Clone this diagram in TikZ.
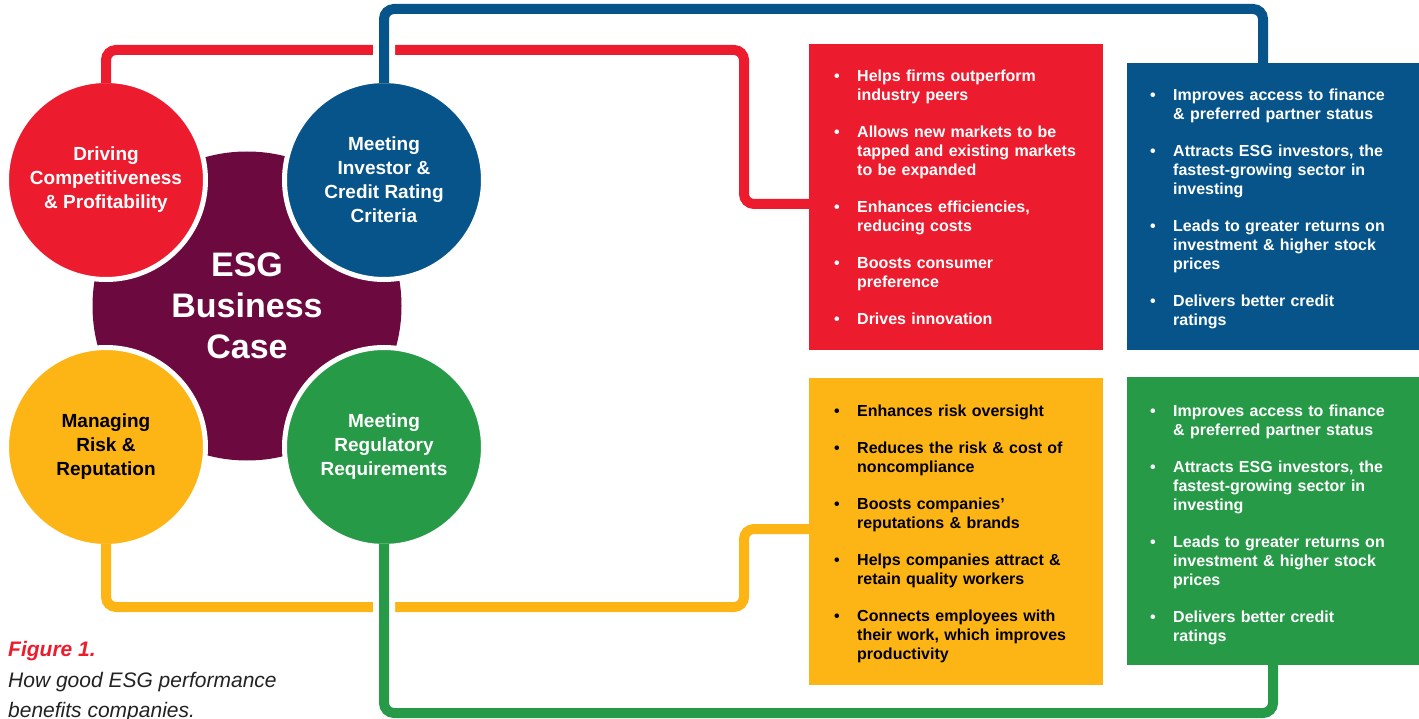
\documentclass[tikz,border=0pt]{standalone}
\usepackage{fontspec}
\setmainfont{Liberation Sans}
\usetikzlibrary{calc}

\definecolor{esgred}{HTML}{EC1C2E}
\definecolor{esgblue}{HTML}{07548A}
\definecolor{esgyellow}{HTML}{FDB515}
\definecolor{esggreen}{HTML}{279A48}
\definecolor{esgplum}{HTML}{6C0A40}
\definecolor{captiongray}{HTML}{222222}

\newcommand{\pointitem}[1]{\noindent\hangindent=23pt\hangafter=1\makebox[23pt][l]{\textbullet}#1\par}
\newcommand{\pointgap}{\vspace{18pt}}
\newcommand{\brk}{\hfil\break}

\tikzset{
  casebubble/.style={circle, draw=white, line width=5pt, minimum size=199pt, inner sep=0pt,
    align=center, font=\fontsize{19}{24}\selectfont\bfseries, text=white},
  infobox/.style={rectangle, anchor=north west, inner sep=0pt, outer sep=0pt},
  pointlist/.style={anchor=north west, inner sep=0pt, text width=268pt, align=left,
    font=\fontsize{16}{19}\selectfont\bfseries, text=white},
  link/.style={line width=10pt, rounded corners=10pt},
  overlink/.style={link, preaction={draw=white, line width=22pt}},
}

\begin{document}
\begin{tikzpicture}[x=1pt, y=-1pt]
\useasboundingbox (0,0) rectangle (1419,719);

% centre and the four drivers
\node (core) [circle, fill=esgplum, minimum size=309pt, inner sep=0pt, align=center,
  text=white, font=\fontsize{34}{41}\selectfont\bfseries] at (247,306) {ESG\\Business\\Case};
\node (redc) [casebubble, fill=esgred] at (106,180) {Driving\\Competitiveness\\\& Profitability};
\node (bluec) [casebubble, fill=esgblue] at (384,180) {Meeting\\Investor \&\\Credit Rating\\Criteria};
\node (yelc) [casebubble, fill=esgyellow, text=black] at (106,447) {Managing\\Risk \&\\Reputation};
\node (greenc) [casebubble, fill=esggreen] at (384,447) {Meeting\\Regulatory\\Requirements};

% benefit boxes
\node (redbox) [infobox, fill=esgred, minimum width=294pt, minimum height=306pt] at (809,44) {};
\node (bluebox) [infobox, fill=esgblue, minimum width=292pt, minimum height=287pt] at (1127,63) {};
\node (yelbox) [infobox, fill=esgyellow, minimum width=294pt, minimum height=307pt] at (809,378) {};
\node (greenbox) [infobox, fill=esggreen, minimum width=292pt, minimum height=288pt] at (1127,377) {};

% connectors
\draw[link, esgred] ($(redc.center)!0.95!(redc.north)$) |- (744,50) |- ([yshift=-7pt]redbox.west);
\draw[link, esgyellow] ($(yelc.center)!0.95!(yelc.south)$) |- (744,607) |- ([yshift=2.5pt]yelbox.west);
\draw[overlink, esgblue] ($(bluec.center)!0.95!(bluec.north)$) |- (1263,9) -- ([xshift=-10pt]bluebox.north);
\draw[overlink, esggreen] ($(greenc.center)!0.95!(greenc.south)$) |- (1273,713) -- (greenbox.south);

% box texts
\node (redlist) [pointlist] at ([shift={(25,26)}]redbox.north west) {%
  \pointitem{Helps firms outperform\brk industry peers}\pointgap
  \pointitem{Allows new markets to be\brk tapped and existing markets\brk to be expanded}\pointgap
  \pointitem{Enhances efficiencies,\brk reducing costs}\pointgap
  \pointitem{Boosts consumer\brk preference}\pointgap
  \pointitem{Drives innovation}};
\node (bluelist) [pointlist] at ([shift={(23,26)}]bluebox.north west) {%
  \pointitem{Improves access to finance\brk \& preferred partner status}\pointgap
  \pointitem{Attracts ESG investors, the\brk fastest-growing sector in\brk investing}\pointgap
  \pointitem{Leads to greater returns on\brk investment \& higher stock\brk prices}\pointgap
  \pointitem{Delivers better credit\brk ratings}};
\node (yellist) [pointlist, text=black] at ([shift={(25,27)}]yelbox.north west) {%
  \pointitem{Enhances risk oversight}\pointgap
  \pointitem{Reduces the risk \& cost of\brk noncompliance}\pointgap
  \pointitem{Boosts companies’\brk reputations \& brands}\pointgap
  \pointitem{Helps companies attract \&\brk retain quality workers}\pointgap
  \pointitem{Connects employees with\brk their work, which improves\brk productivity}};
\node (greenlist) [pointlist] at ([shift={(23,28)}]greenbox.north west) {%
  \pointitem{Improves access to finance\brk \& preferred partner status}\pointgap
  \pointitem{Attracts ESG investors, the\brk fastest-growing sector in\brk investing}\pointgap
  \pointitem{Leads to greater returns on\brk investment \& higher stock\brk prices}\pointgap
  \pointitem{Delivers better credit\brk ratings}};

% caption
\node (figlabel) [anchor=base west, inner sep=0pt, text=esgred,
  font=\fontsize{21}{30}\selectfont\bfseries\itshape] at (8,656) {Figure 1.};
\node (figcaption) [anchor=north west, inner sep=0pt, align=left, text=captiongray,
  font=\fontsize{21}{30}\selectfont\itshape] at (8,672.5) {How good ESG performance\\benefits companies.};
\end{tikzpicture}
\end{document}
